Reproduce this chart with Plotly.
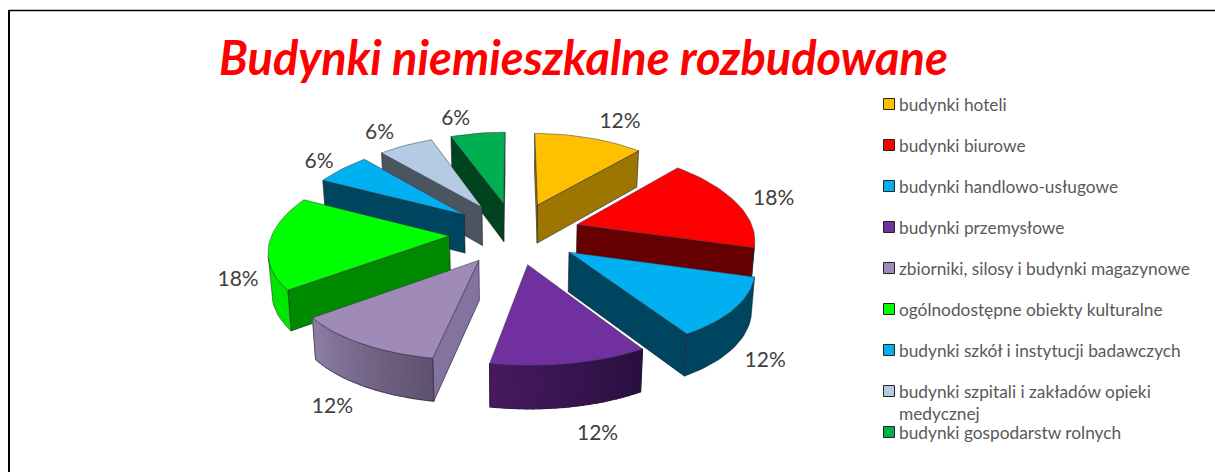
import math
import plotly.graph_objects as go

title = "Budynki niemieszkalne rozbudowane"
categories = ["budynki hoteli", "budynki biurowe", "budynki handlowo-usługowe",
              "budynki przemysłowe", "zbiorniki, silosy i budynki magazynowe",
              "ogólnodostępne obiekty kulturalne", "budynki szkół i instytucji badawczych",
              "budynki szpitali i zakładów opieki<br>medycznej", "budynki gospodarstw rolnych"]
values = [2, 3, 2, 2, 2, 3, 1, 1, 1]

top_colors = ["#FFC000", "#FF0000", "#00B0F0", "#7030A0", "#A08AB8", "#00FF00", "#00B0F0", "#B4CBE3", "#00B050"]
radial_colors = ["#9C7600", "#660000", "#004560", "#2E1245", "#85739F", "#008A00", "#004560", "#4A5560", "#00431F"]
wall_left = ["#9C7600", "#660000", "#004560", "#47195F", "#8C7DA3", "#00E600", "#004560", "#4A5560", "#00431F"]
wall_right = ["#9C7600", "#660000", "#004560", "#2A1040", "#5F5270", "#00E600", "#004560", "#4A5560", "#00431F"]

# projection settings
CX, CY, A, B, KX, KY, EXPLODE, DEPTH, SHRINK = 515, 233, 177, 84, 0.144, 0.10, 0.37, 39, 0.985
LABEL_R = 1.18
LABEL_NUDGE = [(23, -4), (10, 1), (1, 0), (19, 7), (-7, 4), (2, 36), (-3, 2), (-14, -1), (-18, -2)]
FONT = "Lato"
LABEL_COLOR = "#404040"
LEGEND_COLOR = "#595959"
LEGEND_X, LEGEND_TEXT_X, LEGEND_Y0, LEGEND_STEP = 889, 898, 104, 41


def project(X, Y, bottom=False):
    sx = 1 / (1 - KX * Y)
    sy = 1 / (1 - KY * Y)
    x, y = A * X * sx, B * Y * sy
    if bottom:
        return CX + x * SHRINK, CY + y * SHRINK + DEPTH * sy
    return CX + x, CY + y


def hex_mix(c1, c2, t):
    a = [int(c1[i:i + 2], 16) for i in (1, 3, 5)]
    b = [int(c2[i:i + 2], 16) for i in (1, 3, 5)]
    return "#%02x%02x%02x" % tuple(round(p + (q - p) * t) for p, q in zip(a, b))


def visible(P, Q, Pb):
    return (Q[0] - P[0]) * (Pb[1] - P[1]) - (Q[1] - P[1]) * (Pb[0] - P[0]) < 0


def polygon(pts, fill, line=None, width=0.6):
    xs = [p[0] for p in pts] + [pts[0][0]]
    ys = [p[1] for p in pts] + [pts[0][1]]
    return go.Scatter(x=xs, y=ys, mode="lines", fill="toself", fillcolor=fill,
                      line=dict(color=line or fill, width=width), hoverinfo="skip", showlegend=False)


total = sum(values)
slices = []
cum = 0
for i, v in enumerate(values):
    t0 = cum / total * 2 * math.pi
    t1 = (cum + v) / total * 2 * math.pi
    cum += v
    slices.append((i, t0, t1, (t0 + t1) / 2))

fig = go.Figure()
labels = []
for i, t0, t1, tm in sorted(slices, key=lambda s: -math.cos(s[3])):
    ox, oy = EXPLODE * math.sin(tm), -EXPLODE * math.cos(tm)
    n = max(8, int((t1 - t0) * 30))
    angles = [t0 + (t1 - t0) * j / n for j in range(n + 1)]
    world = [(ox + math.sin(t), oy - math.cos(t)) for t in angles]
    top = [project(*w) for w in world]
    bot = [project(*w, bottom=True) for w in world]
    apex_t, apex_b = project(ox, oy), project(ox, oy, bottom=True)
    # radial faces
    if visible(apex_t, top[0], apex_b):
        fig.add_trace(polygon([apex_t, top[0], bot[0], apex_b], radial_colors[i], "#1c1c2c"))
    if visible(top[-1], apex_t, bot[-1]):
        fig.add_trace(polygon([top[-1], apex_t, apex_b, bot[-1]], radial_colors[i], "#1c1c2c"))
    # outer wall
    vis = [j for j in range(n) if visible(top[j], top[j + 1], bot[j])]
    if vis:
        run = list(range(vis[0], vis[-1] + 2))
        outline = [top[j] for j in run] + [bot[j] for j in reversed(run)]
        if wall_left[i] == wall_right[i]:
            fig.add_trace(polygon(outline, wall_left[i], "#1c1c2c", 0.5))
        else:
            for j in vis:
                c = hex_mix(wall_right[i], wall_left[i], (j - vis[0]) / max(1, len(vis) - 1))
                fig.add_trace(polygon([top[j], top[j + 1], bot[j + 1], bot[j]], c, c, 1.2))
            outline.append(outline[0])
            fig.add_trace(go.Scatter(x=[p[0] for p in outline], y=[p[1] for p in outline], mode="lines",
                                     line=dict(color="#1c1c2c", width=0.5), hoverinfo="skip", showlegend=False))
    # top face
    fig.add_trace(polygon([apex_t] + top, top_colors[i], "#33333f", 0.5))
    lx, ly = project(ox + LABEL_R * math.sin(tm), oy - LABEL_R * math.cos(tm), bottom=math.cos(tm) < -0.3)
    labels.append((i, lx + LABEL_NUDGE[i][0], ly + LABEL_NUDGE[i][1]))

labels.sort()
fig.add_trace(go.Scatter(x=[l[1] for l in labels], y=[l[2] for l in labels], mode="text",
                         text=[f"{round(v / total * 100)}%" for v in values],
                         textfont=dict(family=FONT, size=21, color=LABEL_COLOR),
                         hoverinfo="skip", showlegend=False))

# legend column
rows = [LEGEND_Y0 + LEGEND_STEP * j for j in range(8)] + [432]
fig.add_trace(go.Scatter(x=[LEGEND_X] * 9, y=rows, mode="markers",
                         marker=dict(symbol="square", size=11, color=top_colors, line=dict(color="#222222", width=1)),
                         hoverinfo="skip", showlegend=False))
for name, y in zip(categories, rows):
    fig.add_annotation(x=LEGEND_TEXT_X, y=y - 11, xref="x", yref="y", text=name, showarrow=False, xanchor="left",
                       yanchor="top", align="left", borderpad=0,
                       font=dict(family=FONT, size=17.3, color=LEGEND_COLOR))

fig.add_annotation(x=583, y=57, xref="x", yref="y", text=f"<b><i>{title}</i></b>", showarrow=False,
                   font=dict(family=FONT, size=47, color="#FF0000"))

fig.update_layout(width=1215, height=472, margin=dict(l=0, r=0, t=0, b=0), paper_bgcolor="white",
                  plot_bgcolor="white", showlegend=False,
                  xaxis=dict(range=[0, 1215], visible=False, fixedrange=True),
                  yaxis=dict(range=[472, 0], visible=False, fixedrange=True),
                  shapes=[dict(type="line", x0=9, x1=9, y0=10, y1=472, line=dict(color="black", width=2)),
                          dict(type="line", x0=9, x1=1215, y0=10.5, y1=10.5, line=dict(color="black", width=1.5))])
fig.write_html("out.html", config=dict(displayModeBar=False),
               post_script="document.body.style.margin='0';document.body.style.overflow='hidden';")
